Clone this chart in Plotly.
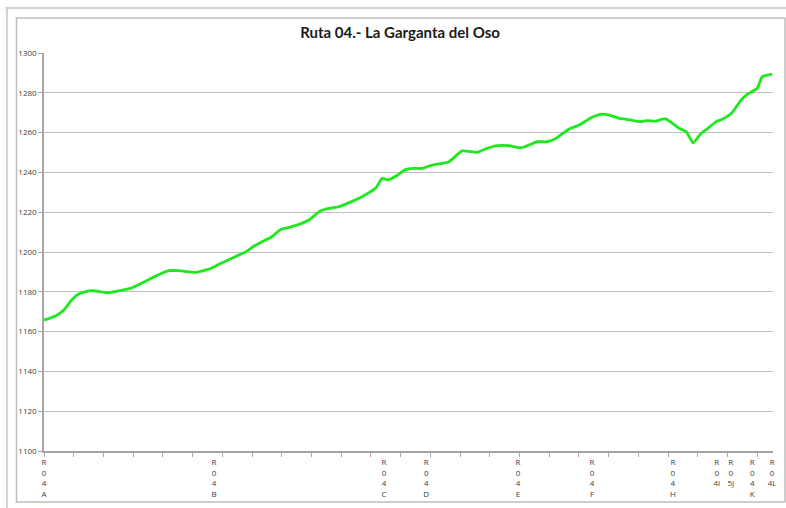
import plotly.graph_objects as go

# Profile positions (relative distance units) and elevations (m)
dist = [0, 4.0, 6.7, 9.4, 11.8, 15.1, 17.5, 20.9, 25.2, 29.6, 33.0, 37.7, 42.1, 45.4,
        51.2, 54.5, 56.5, 59.9, 65.6, 68.0, 70.7, 73.4, 76.4, 79.8, 82.5, 85.8, 89.2,
        92.6, 94.9, 99.3, 102.7, 107.0, 111.7, 113.8, 115.8, 118.5, 121.8, 124.5, 127.2,
        130.6, 136.3, 140.7, 145.7, 149.1, 152.5, 156.5, 160.6, 166.0, 169.3, 172.3,
        176.7, 180.1, 184.4, 187.8, 190.2, 193.5, 195.9, 200.3, 202.9, 206.0, 207.7,
        209.4, 213.7, 216.1, 218.4, 221.1, 223.1, 226.2, 228.2, 231.5, 234.6, 236.6,
        240.0, 241.7, 245.0]
elev = [1165.8, 1168.0, 1170.9, 1176.0, 1179.0, 1180.5, 1180.4, 1179.5, 1180.5, 1182.0,
        1184.4, 1188.0, 1190.6, 1190.6, 1189.8, 1191.0, 1192.0, 1194.6, 1198.5, 1200.2,
        1203.0, 1205.2, 1207.4, 1211.4, 1212.4, 1213.9, 1216.1, 1220.3, 1221.6, 1222.8,
        1224.8, 1227.8, 1232.3, 1237.0, 1236.2, 1238.2, 1241.5, 1242.0, 1242.0, 1243.7,
        1245.4, 1250.8, 1250.1, 1252.1, 1253.4, 1253.4, 1252.4, 1255.4, 1255.4, 1257.1,
        1261.8, 1263.8, 1267.7, 1269.3, 1268.8, 1267.2, 1266.7, 1265.5, 1266.0, 1265.8,
        1266.7, 1266.8, 1262.2, 1260.5, 1254.9, 1259.6, 1261.8, 1265.5, 1266.7, 1270.0,
        1276.4, 1279.2, 1282.3, 1288.1, 1289.4]

# Waypoint labels along the route
wp_pos = [0, 57.2, 114.4, 128.6, 159.5, 184.4, 211.6, 226.4, 231.1, 238.3, 245.0]
wp_text = ["R<br>0<br>4<br>A", "R<br>0<br>4<br>B", "R<br>0<br>4<br>C", "R<br>0<br>4<br>D",
           "R<br>0<br>4<br>E", "R<br>0<br>4<br>F", "R<br>0<br>4<br>H", "R<br>0<br>4I",
           "R<br>0<br>5J", "R<br>0<br>4<br>K", "R<br>0<br>4L"]

y_ticks = [1100, 1120, 1140, 1160, 1180, 1200, 1220, 1240, 1260, 1280, 1300]

W, H = 786, 508
L, R, T, B = 44, 13, 53, 57
pw, ph = W - L - R, H - T - B

def px(x):
    return (x - L) / pw

def py(y):
    return (H - B - y) / ph

fig = go.Figure()
fig.add_trace(go.Scatter(
    x=dist, y=elev, mode="lines",
    line=dict(color="#1ee81e", width=2.8, shape="spline", smoothing=0.5),
    hoverinfo="x+y", showlegend=False))

shapes = [
    # outer screenshot frame lines
    dict(type="line", xref="paper", yref="paper", x0=px(5), x1=px(786), y0=py(8), y1=py(8),
         line=dict(color="#d4d4d4", width=2)),
    dict(type="line", xref="paper", yref="paper", x0=px(7), x1=px(7), y0=py(8), y1=py(508),
         line=dict(color="#d4d4d4", width=2)),
    # chart area border
    dict(type="rect", xref="paper", yref="paper", x0=px(16.5), x1=px(785), y0=py(18), y1=py(502),
         line=dict(color="#bdbdbd", width=1.5), fillcolor="rgba(0,0,0,0)", layer="below"),
]

fig.update_layout(
    width=W, height=H,
    margin=dict(l=L, r=R, t=T, b=B, autoexpand=False),
    paper_bgcolor="white", plot_bgcolor="white",
    shapes=shapes,
    title=dict(text="<b>Ruta 04.- La Garganta del Oso</b>", x=0.509, xref="container",
               y=1 - 33 / H, yref="container", xanchor="center", yanchor="middle",
               font=dict(family="Lato, Open Sans, sans-serif", size=15, color="#1a1a1a")),
    xaxis=dict(
        range=[0, 245.3], tickmode="array", tickvals=wp_pos, ticktext=wp_text,
        ticks="", showgrid=False, zeroline=False, ticklabelstandoff=3, automargin=False,
        showline=True, linecolor="#a6a6a6", linewidth=1.5,
        tickfont=dict(family="Open Sans, sans-serif", size=8, color="#404040"),
        tickangle=0,
        minor=dict(tickmode="linear", tick0=0, dtick=10, ticks="outside", ticklen=4,
                   tickcolor="#a6a6a6", tickwidth=1, showgrid=False),
    ),
    yaxis=dict(
        range=[1100, 1300], tickmode="array", tickvals=y_ticks, automargin=False,
        ticks="outside", ticklen=4, tickcolor="#a6a6a6",
        showgrid=True, gridcolor="#bfbfbf", gridwidth=1.4,
        zeroline=False, showline=True, linecolor="#a6a6a6", linewidth=1.5,
        tickfont=dict(family="Open Sans, sans-serif", size=8, color="#404040"),
    ),
)

fig.write_html("out.html", config={"displayModeBar": False},
               post_script="document.body.style.margin='0';document.body.style.overflow='hidden';")
